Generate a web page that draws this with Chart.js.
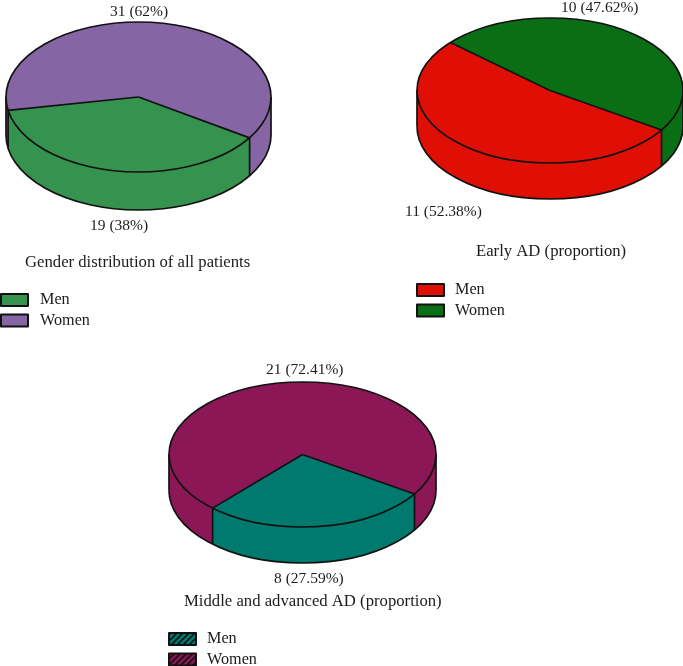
<!DOCTYPE html>
<html>
<head>
<meta charset="utf-8">
<title>Gender distribution</title>
<script src="https://cdn.jsdelivr.net/npm/chart.js@4"></script>
<style>
  html, body { margin: 0; padding: 0; background: #fff; }
  #wrap { position: relative; width: 683px; height: 666px; overflow: hidden; }
  canvas { position: absolute; left: 0; top: 0; }
</style>
</head>
<body>
<div id="wrap">
  <canvas id="allPatients" width="683" height="666"></canvas>
  <canvas id="earlyAd" width="683" height="666"></canvas>
  <canvas id="middleAd" width="683" height="666"></canvas>
</div>
<script>
// ─── data ─────────────────────────────────────────────────────────────────────
const categories = ['Men', 'Women'];
const allPatients = [19, 31];
const earlyAd     = [11, 10];
const middleAd    = [8, 21];

const TITLE_FONT  = '16.7px "Liberation Serif", serif';
const LABEL_FONT  = '15.5px "Liberation Serif", serif';
const LEGEND_FONT = '16.2px "Liberation Serif", serif';
const INK  = '#111';
const TEXT = '#1c1c1c';

// ─── layout of each panel ─────────────────────────────────────────────────────
const PANELS = [
  {
    id: 'allPatients', values: allPatients, colors: ['#35924f', '#8565a4'],
    title: 'Gender distribution of all patients', titleX: 25, titleY: 267,
    cx: 138.5, cy: 97, rx: 132.5, ry: 75, depth: 38,
    valueLabels: [{ x: 90, y: 230 }, { x: 110, y: 16 }],
    legend: { x: 1, y: 294, textX: 40, hatch: false },
  },
  {
    id: 'earlyAd', values: earlyAd, colors: ['#e00f06', '#0a6e14'],
    title: 'Early AD (proportion)', titleX: 476, titleY: 256,
    cx: 550, cy: 90.5, rx: 133, ry: 72.5, depth: 36,
    valueLabels: [{ x: 405, y: 216 }, { x: 561, y: 12 }],
    legend: { x: 417, y: 284, textX: 455, hatch: false },
  },
  {
    id: 'middleAd', values: middleAd, colors: ['#007a6e', '#8c1756'],
    title: 'Middle and advanced AD (proportion)', titleX: 184, titleY: 606,
    cx: 302.5, cy: 454.5, rx: 133.5, ry: 72.5, depth: 36,
    valueLabels: [{ x: 274, y: 583 }, { x: 266, y: 374 }],
    legend: { x: 169, y: 633, textX: 207, hatch: true },
  },
];

// ─── helpers ──────────────────────────────────────────────────────────────────
function hatchPattern(ctx, color) {
  const c = document.createElement('canvas');
  c.width = c.height = 6;
  const p = c.getContext('2d');
  p.fillStyle = color;
  p.fillRect(0, 0, 6, 6);
  p.strokeStyle = '#111';
  p.lineWidth = 1.6;
  [[-1, 1, 1, -1], [0, 6, 6, 0], [5, 7, 7, 5]].forEach(s => {
    p.beginPath(); p.moveTo(s[0], s[1]); p.lineTo(s[2], s[3]); p.stroke();
  });
  return ctx.createPattern(c, 'repeat');
}

// front side of the cylinder is the 0..PI part of the ellipse
function frontRanges(start, end) {
  const out = [];
  for (let k = -2; k <= 2; k++) {
    const a = Math.max(start, 2 * Math.PI * k);
    const b = Math.min(end, 2 * Math.PI * k + Math.PI);
    if (b > a) out.push([a, b]);
  }
  return out;
}

// ─── plugin: squashes the pie into an ellipse and adds wall, labels and legend ─
const pie3d = {
  id: 'pie3d',
  beforeDatasetsDraw(chart, args, opts) {
    const { ctx } = chart;
    const { cx, cy, rx, ry, depth } = opts.panel;
    const arcs = chart.getDatasetMeta(0).data;

    arcs.forEach(arc => {
      ctx.fillStyle = arc.options.backgroundColor;
      frontRanges(arc.startAngle, arc.endAngle).forEach(([a, b]) => {
        ctx.beginPath();
        ctx.ellipse(cx, cy, rx, ry, 0, a, b);
        ctx.ellipse(cx, cy + depth, rx, ry, 0, b, a, true);
        ctx.closePath();
        ctx.fill();
      });
    });

    ctx.save();
    ctx.translate(cx, cy);
    ctx.scale(1, ry / rx);
    ctx.translate(-arcs[0].x, -arcs[0].y);
  },
  afterDatasetsDraw(chart, args, opts) {
    const { ctx } = chart;
    const { cx, cy, rx, ry, depth } = opts.panel;
    const arcs = chart.getDatasetMeta(0).data;
    ctx.restore();

    ctx.strokeStyle = INK;
    ctx.lineWidth = 1.7;
    ctx.lineJoin = 'round';

    // rims
    ctx.beginPath();
    ctx.ellipse(cx, cy, rx, ry, 0, 0, 2 * Math.PI);
    ctx.stroke();
    ctx.beginPath();
    ctx.ellipse(cx, cy + depth, rx, ry, 0, 0, Math.PI);
    ctx.stroke();

    // silhouette edges
    [cx - rx, cx + rx].forEach(x => {
      ctx.beginPath();
      ctx.moveTo(x, cy);
      ctx.lineTo(x, cy + depth);
      ctx.stroke();
    });

    // slice boundaries
    arcs.forEach(arc => {
      const x = cx + rx * Math.cos(arc.startAngle);
      const y = cy + ry * Math.sin(arc.startAngle);
      ctx.beginPath();
      ctx.moveTo(cx, cy);
      ctx.lineTo(x, y);
      if (Math.sin(arc.startAngle) > 0) ctx.lineTo(x, y + depth);
      ctx.stroke();
    });
  },
  afterDraw(chart, args, opts) {
    const { ctx } = chart;
    const p = opts.panel;
    const values = chart.data.datasets[0].data;
    const total = values.reduce((a, b) => a + b, 0);

    ctx.save();
    ctx.fillStyle = TEXT;
    ctx.textAlign = 'left';
    ctx.textBaseline = 'alphabetic';

    ctx.font = LABEL_FONT;
    values.forEach((v, i) => {
      const pct = +(v / total * 100).toFixed(2);
      ctx.fillText(`${v} (${pct}%)`, p.valueLabels[i].x, p.valueLabels[i].y);
    });
    ctx.font = TITLE_FONT;
    ctx.fillText(p.title, p.titleX, p.titleY);

    ctx.font = LEGEND_FONT;
    chart.data.labels.forEach((label, i) => {
      const y = p.legend.y + i * 20.5;
      ctx.fillStyle = p.legend.hatch ? hatchPattern(ctx, p.colors[i]) : p.colors[i];
      ctx.fillRect(p.legend.x, y, 27, 12);
      ctx.strokeStyle = INK;
      ctx.lineWidth = 2;
      ctx.strokeRect(p.legend.x, y, 27, 12);
      ctx.fillStyle = TEXT;
      ctx.fillText(label, p.legend.textX, y + 10);
    });
    ctx.restore();
  },
};

// ─── charts ───────────────────────────────────────────────────────────────────
function renderPanel(panel) {
  const ctx = document.getElementById(panel.id).getContext('2d');
  return new Chart(ctx, {
    type: 'pie',
    data: {
      labels: categories,
      datasets: [{
        data: panel.values,
        backgroundColor: panel.colors,
        borderWidth: 0,
        clip: false,
      }],
    },
    options: {
      responsive: false,
      animation: false,
      rotation: 123,
      radius: panel.rx,
      events: [],
      plugins: {
        legend: { display: false },
        tooltip: { enabled: false },
        pie3d: { panel },
      },
    },
    plugins: [pie3d],
  });
}

PANELS.forEach(renderPanel);
</script>
</body>
</html>
